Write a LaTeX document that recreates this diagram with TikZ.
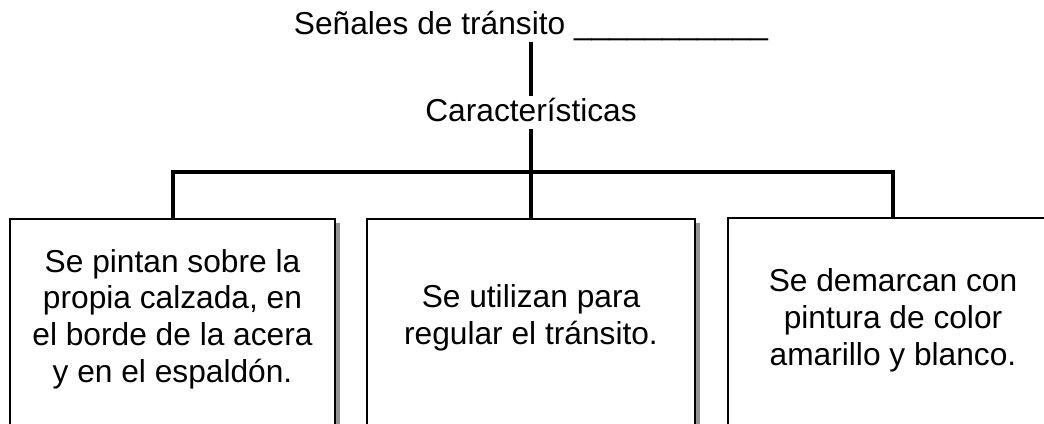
\documentclass[tikz,border=0pt]{standalone}
\usepackage{fontspec}
\setmainfont{Liberation Sans}
\usetikzlibrary{shadows}
\usetikzlibrary{calc}
\tikzstyle{TextoNode}=[inner sep=0.5pt, font=\fontsize{15.85}{18.35}\selectfont]
\tikzstyle{RotuloNode}=[TextoNode, anchor=base, inner sep=1pt, text height=12pt, text depth=2.5pt]
\tikzstyle{CajaTexto}=[TextoNode, align=center]
\tikzstyle{CajaNode}=[rectangle, draw=black, line width=1pt, fill=white, anchor=north, minimum height=115pt, drop shadow={shadow xshift=2.5pt, shadow yshift=-2pt, fill=gray!85, opacity=1}]
\tikzstyle{RamaEdge}=[line width=2pt]
\tikzset{>=latex}

\begin{document}
\begin{tikzpicture}[x=0.5pt, y=0.5pt]
\useasboundingbox (0,0) rectangle (1044,423);
\clip (0,0) rectangle (1044,423);

\node[RotuloNode](Titulo) at (531,388) {Señales de tránsito \_\_\_\_\_\_\_\_\_\_\_};
\node[RotuloNode](Carac) at (531,301) {Características};
\coordinate (Rama) at (531,251);

\node[CajaNode, minimum width=162.5pt](C1) at (172.5,205) {};
\node[CajaNode, minimum width=164pt](C2) at (531,205) {};
\node[CajaNode, minimum width=165pt](C3) at (893,206) {};

\node[CajaTexto](T1) at (172.5,104) {Se pintan sobre la\\propia calzada, en\\el borde de la acera\\y en el espaldón.};
\node[CajaTexto](T2) at (531,105) {Se utilizan para\\regular el tránsito.};
\node[CajaTexto](T3) at (893,102.5) {Se demarcan con\\pintura de color\\amarillo y blanco.};

\draw[RamaEdge](Titulo.south) -- (Carac.north);
\draw[RamaEdge](Carac.south) -- (Rama);
\draw[RamaEdge](Rama) -| (C1.north);
\draw[RamaEdge](Rama) -- (C2.north);
\draw[RamaEdge](Rama) -| (C3.north);
\end{tikzpicture}
\end{document}
